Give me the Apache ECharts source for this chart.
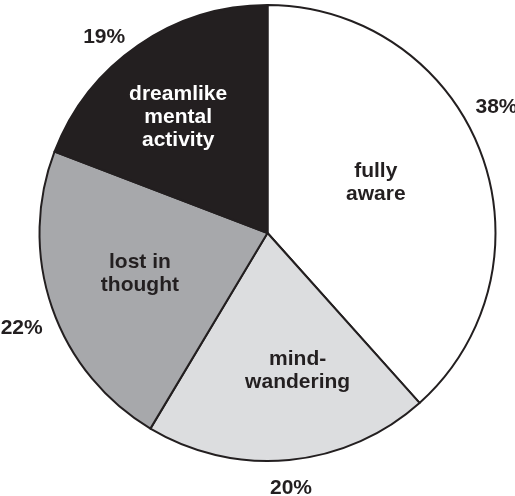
<!DOCTYPE html>
<html><head><meta charset="utf-8">
<script src="https://cdn.jsdelivr.net/npm/echarts@6/dist/echarts.min.js"></script>
<style>html,body{margin:0;padding:0;background:#fff}#c{width:515px;height:496px}</style>
</head><body><div id="c"></div>
<script>
const categories = ['fully\naware', 'mind-\nwandering', 'lost in\nthought', 'dreamlike\nmental\nactivity'];
const values = [38, 20, 22, 19];

const fills = ['#ffffff', '#dcdddf', '#a7a8ab', '#231f20'];
const innerText = ['#231f20', '#231f20', '#231f20', '#ffffff'];
const innerOffsets = [[-1, -9], [19, 21], [-17, 2], [-23, -19]];
const outerOffsets = [[-12, -34], [-1, -2], [-2, 11], [-17, 17]];
const font = { fontFamily: 'Liberation Sans', fontWeight: 'bold', fontSize: 21, lineHeight: 23 };
const center = [267.5, 233];

const chart = echarts.init(document.getElementById('c'), null, { renderer: 'canvas' });
chart.setOption({
  animation: false,
  backgroundColor: '#ffffff',
  series: [
    {
      type: 'pie', center: center, radius: [0, 228], startAngle: 90, clockwise: true,
      silent: true,
      itemStyle: { borderColor: '#231f20', borderWidth: 2 },
      label: Object.assign({ show: true, position: 'inside', formatter: '{b}', align: 'center' }, font),
      labelLine: { show: false },
      data: categories.map((c, i) => ({
        name: c, value: values[i],
        itemStyle: { color: fills[i] },
        label: { color: innerText[i], offset: innerOffsets[i] }
      }))
    },
    {
      type: 'pie', center: center, radius: [0, 510], startAngle: 90, clockwise: true,
      silent: true, z: 5,
      itemStyle: { color: 'rgba(0,0,0,0)', borderWidth: 0 },
      label: Object.assign({ show: true, position: 'inside', formatter: '{c}%', color: '#231f20' }, font),
      labelLine: { show: false },
      data: categories.map((c, i) => ({
        name: c, value: values[i],
        label: { offset: outerOffsets[i] }
      }))
    }
  ]
});
</script></body></html>
